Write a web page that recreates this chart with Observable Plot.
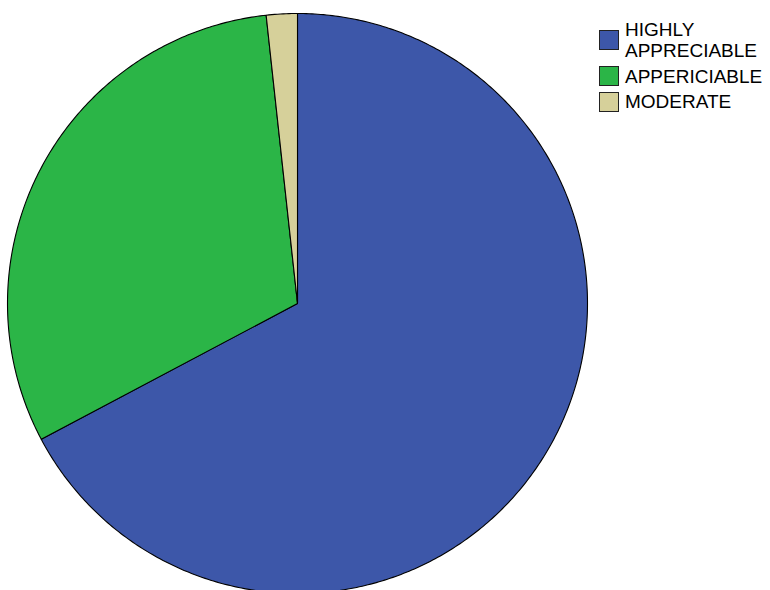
<!DOCTYPE html>
<html>
<head>
<meta charset="utf-8">
<script src="https://cdn.jsdelivr.net/npm/d3@7"></script>
<script src="https://cdn.jsdelivr.net/npm/@observablehq/plot@0.6"></script>
<style>
  body { margin: 0; background: #fff; }
  #wrap { position: relative; width: 770px; height: 590px; overflow: hidden; }
  #legend { position: absolute; left: 599px; top: 19px; font-family: "Liberation Sans", Arial, sans-serif; font-size: 19px; color: #000; }
  .row { display: flex; align-items: center; margin-bottom: 4.5px; }
  .sw { width: 20px; height: 20px; border: 1.5px solid #222; box-sizing: border-box; margin-right: 6px; flex: none; }
  .lab { line-height: 21px; }
</style>
</head>
<body>
<div id="wrap"></div>
<script>
const categories = ["HIGHLY APPRECIABLE", "APPERICIABLE", "MODERATE"];
const legendLabels = [["HIGHLY", "APPRECIABLE"], ["APPERICIABLE"], ["MODERATE"]];
const counts = [39, 18, 1];
const colors = ["#3d57a9", "#2bb547", "#d6d09a"];

// pie angles from data (clockwise from 12 o'clock)
const arcs = d3.pie().sort(null).value(d => d)(counts);
const pts = [];
arcs.forEach((a, i) => {
  const n = Math.max(2, Math.ceil((a.endAngle - a.startAngle) / 0.01));
  pts.push({cat: categories[i], x: 0, y: 0});
  for (let k = 0; k <= n; k++) {
    const t = a.startAngle + (a.endAngle - a.startAngle) * k / n;
    pts.push({cat: categories[i], x: Math.sin(t), y: Math.cos(t)});
  }
  pts.push({cat: categories[i], x: 0, y: 0});
});

const cx = 297, cy = 303, r = 290;
const chart = Plot.plot({
  width: 770,
  height: 590,
  margin: 0,
  x: {domain: [-1, 1], range: [cx - r, cx + r], axis: null},
  y: {domain: [-1, 1], range: [cy + r, cy - r], axis: null},
  color: {domain: categories, range: colors},
  marks: [
    Plot.line(pts, {x: "x", y: "y", z: "cat", fill: "cat", stroke: "#000", strokeWidth: 1.1, curve: "linear-closed"})
  ]
});
document.getElementById("wrap").appendChild(chart);

const legend = document.createElement("div");
legend.id = "legend";
legendLabels.forEach((lines, i) => {
  const row = document.createElement("div");
  row.className = "row";
  const sw = document.createElement("div");
  sw.className = "sw";
  sw.style.background = colors[i];
  const lab = document.createElement("div");
  lab.className = "lab";
  lab.innerHTML = lines.join("<br>");
  row.appendChild(sw);
  row.appendChild(lab);
  legend.appendChild(row);
});
document.getElementById("wrap").appendChild(legend);
</script>
</body>
</html>
